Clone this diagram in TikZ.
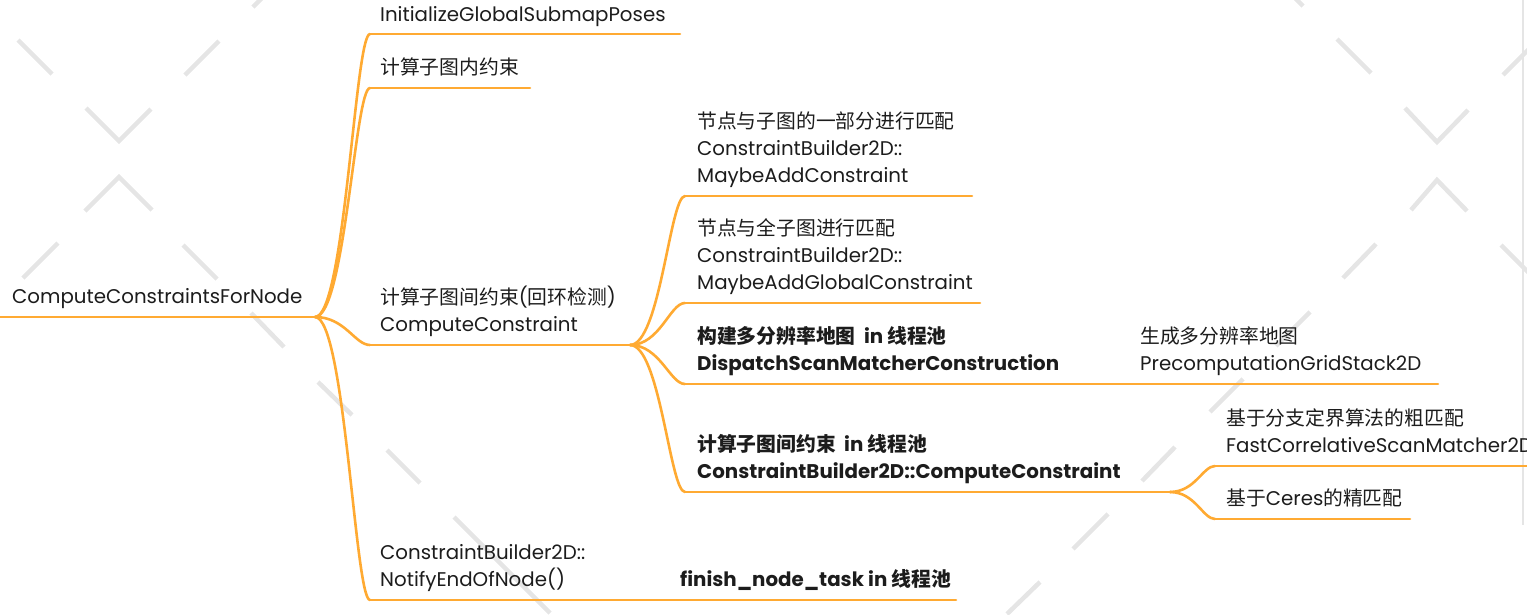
\documentclass[tikz,border=0pt]{standalone}
\usepackage{fontspec}
\setmainfont{Poppins}
\newfontfamily\zh{Noto Sans CJK SC}
\newcommand\cn[1]{{\zh #1}}
\newcommand\ml[1]{\begin{tabular}[b]{@{}l@{}}#1\end{tabular}}
\definecolor{brc}{RGB}{255,170,50}
\definecolor{wm}{RGB}{229,229,229}
\definecolor{txc}{RGB}{28,28,28}
\tikzset{
  txt/.style={anchor=base west, inner sep=0pt, text=txc, font=\fontsize{19.8}{26.7}\selectfont},
  btxt/.style={txt, font=\fontsize{19.8}{26.7}\selectfont\bfseries},
  br/.style={draw=brc, line width=2.6pt, line cap=round},
  lnk/.style={br, out=0, in=180, out distance=30pt, in distance=15pt},
  slnk/.style={br, out=0, in=180, out distance=25pt, in distance=12pt},
  wml/.style={draw=wm, line width=4.5pt},
}
\begin{document}
\begin{tikzpicture}[x=1pt,y=-1pt]
\useasboundingbox (0,0) rectangle (1527,614);
\clip (0,0) rectangle (1527,614);
% watermark
\draw[wml] (18,40) -- (52,74);
\draw[wml] (86,108) -- (119,141) -- (151,109);
\draw[wml] (185,75) -- (219,41);
\draw[wml] (253,7) -- (267,-7);
\draw[wml] (85,211) -- (119,177) -- (152,210);
\draw[wml] (23,278) -- (58,243);
\draw[wml] (183,245) -- (217,279);
\draw[wml] (251,313) -- (284,347);
\draw[wml] (318,382) -- (352,415);
\draw[wml] (387,450) -- (420,483);
\draw[wml] (454,517) -- (550,613);
\draw[wml] (1007,614) -- (1040,582);
\draw[wml] (1073,549) -- (1108,514);
\draw[wml] (1142,481) -- (1175,447);
\draw[wml] (1210,412) -- (1243,379);
\draw[wml] (1276,346) -- (1310,312);
\draw[wml] (1343,278) -- (1376,244);
\draw[wml] (1411,210) -- (1437,180) -- (1467,211);
\draw[wml] (1501,245) -- (1535,279);
\draw[wml] (1269,-28) -- (1303,6);
\draw[wml] (1337,39) -- (1371,73);
\draw[wml] (1405,108) -- (1437,142) -- (1468,110);
\draw[wml] (1503,75) -- (1537,41);
\draw[draw=wm, line width=1.5pt] (1523,0) -- (1523,525);
% underline coordinates
\coordinate (rS) at (0,317);    \coordinate (rE) at (315,317);
\coordinate (n1S) at (370,34);  \coordinate (n1E) at (680,34);
\coordinate (n2S) at (370,88);  \coordinate (n2E) at (530,88);
\coordinate (n3S) at (370,345); \coordinate (n3E) at (630,345);
\coordinate (n4S) at (370,600); \coordinate (n4E) at (668,600);
\coordinate (n41E) at (956,600);
\coordinate (n31S) at (685,196); \coordinate (n31E) at (972,196);
\coordinate (n32S) at (685,303); \coordinate (n32E) at (980,303);
\coordinate (n33S) at (685,384); \coordinate (n33E) at (1128,384);
\coordinate (n331E) at (1438,384);
\coordinate (n34S) at (685,492); \coordinate (n34E) at (1170,492);
\coordinate (n341S) at (1215,466); \coordinate (n341E) at (1540,466);
\coordinate (n342S) at (1215,519); \coordinate (n342E) at (1410,519);
% texts
\node[txt] (root) at (12,303) {ComputeConstraintsForNode};
\node[txt] (n1) at (380,21) {InitializeGlobalSubmapPoses};
\node[txt] (n2) at (380,74) {\cn{计算子图内约束}};
\node[txt] (n3) at (380,331) {\ml{\cn{计算子图间约束}(\cn{回环检测})\\ComputeConstraint}};
\node[txt] (n4) at (380,586) {\ml{ConstraintBuilder2D::\\NotifyEndOfNode()}};
\node[btxt] (n41) at (680,586) {finish\_node\_task in \cn{线程池}};
\node[txt] (n31) at (697,182) {\ml{\cn{节点与子图的一部分进行匹配}\\ConstraintBuilder2D::\\MaybeAddConstraint}};
\node[txt] (n32) at (697,289) {\ml{\cn{节点与全子图进行匹配}\\ConstraintBuilder2D::\\MaybeAddGlobalConstraint}};
\node[btxt] (n33) at (697,370) {\ml{\cn{构建多分辨率地图}\ \ in \cn{线程池}\\DispatchScanMatcherConstruction}};
\node[txt] (n331) at (1140,370) {\ml{\cn{生成多分辨率地图}\\PrecomputationGridStack2D}};
\node[btxt] (n34) at (697,478) {\ml{\cn{计算子图间约束}\ \ in \cn{线程池}\\ConstraintBuilder2D::ComputeConstraint}};
\node[txt] (n341) at (1226,452) {\ml{\cn{基于分支定界算法的粗匹配}\\FastCorrelativeScanMatcher2D}};
\node[txt] (n342) at (1226,505) {\cn{基于}Ceres\cn{的精匹配}};
% connectors
\draw[br] (rS) -- (rE);
\draw[lnk] (rE) to (n1S); \draw[br] (n1S) -- (n1E);
\draw[lnk] (rE) to (n2S); \draw[br] (n2S) -- (n2E);
\draw[lnk] (rE) to (n3S); \draw[br] (n3S) -- (n3E);
\draw[lnk] (rE) to (n4S); \draw[br] (n4S) -- (n4E);
\draw[br] (n4E) -- (n41E);
\draw[lnk] (n3E) to (n31S); \draw[br] (n31S) -- (n31E);
\draw[lnk] (n3E) to (n32S); \draw[br] (n32S) -- (n32E);
\draw[lnk] (n3E) to (n33S); \draw[br] (n33S) -- (n33E);
\draw[br] (n33E) -- (n331E);
\draw[lnk] (n3E) to (n34S); \draw[br] (n34S) -- (n34E);
\draw[slnk] (n34E) to (n341S); \draw[br] (n341S) -- (n341E);
\draw[slnk] (n34E) to (n342S); \draw[br] (n342S) -- (n342E);
\end{tikzpicture}
\end{document}
